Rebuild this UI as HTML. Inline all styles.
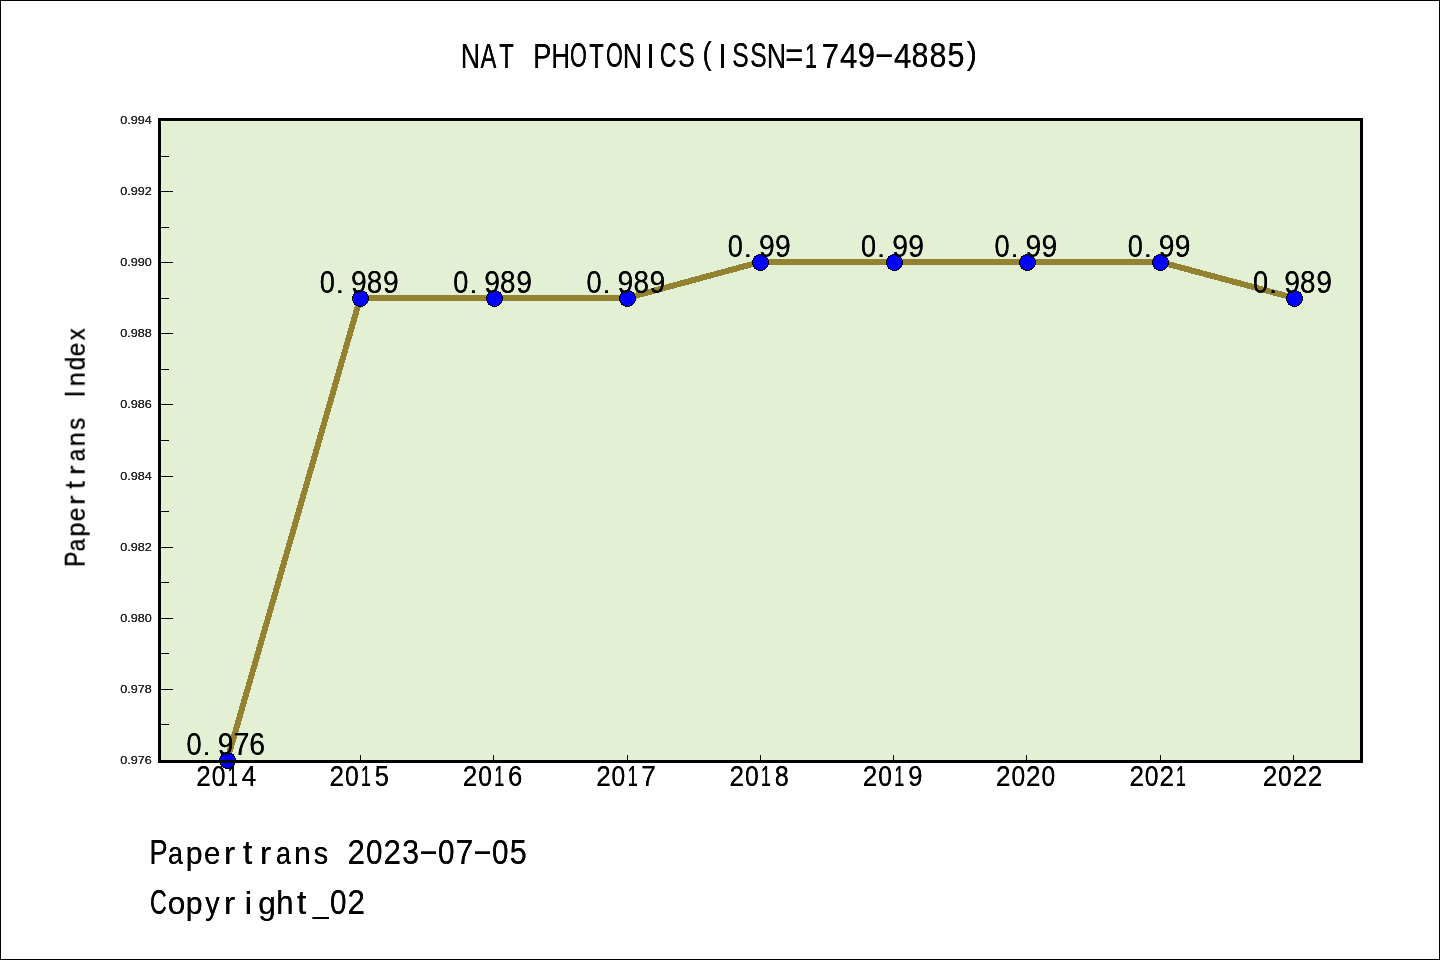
<!DOCTYPE html>
<html><head><meta charset="utf-8"><title>NAT PHOTONICS</title>
<style>
html,body{margin:0;padding:0;background:#fff;}
body{width:1440px;height:960px;overflow:hidden;font-family:"Liberation Sans",sans-serif;}
svg{display:block;font-family:"Liberation Sans",sans-serif;}
text{fill:#000;white-space:pre;}
.sh{filter:drop-shadow(0.3px 0 0 #000);}
.yt{filter:drop-shadow(0 0 0 #000);}
.yt text{fill:#262626;}
</style></head><body>
<svg width="1440" height="960" viewBox="0 0 1440 960">
<rect x="0" y="0" width="1440" height="960" fill="#fff"/>
<rect x="159.5" y="119.5" width="1202.0" height="642.0" fill="#e3f0d4"/>
<polyline points="227.20,760.00 360.20,298.00 494.20,298.00 627.20,298.00 760.20,262.00 894.20,262.00 1027.20,262.00 1160.20,262.00 1294.20,298.00" fill="none" stroke="#948233" stroke-width="6" stroke-linejoin="round" stroke-linecap="butt" shape-rendering="crispEdges"/>
<circle cx="227.50" cy="760.50" r="8" fill="#0000ff" stroke="#000" stroke-width="1" shape-rendering="crispEdges"/>
<circle cx="360.50" cy="298.50" r="8" fill="#0000ff" stroke="#000" stroke-width="1" shape-rendering="crispEdges"/>
<circle cx="494.50" cy="298.50" r="8" fill="#0000ff" stroke="#000" stroke-width="1" shape-rendering="crispEdges"/>
<circle cx="627.50" cy="298.50" r="8" fill="#0000ff" stroke="#000" stroke-width="1" shape-rendering="crispEdges"/>
<circle cx="760.50" cy="262.50" r="8" fill="#0000ff" stroke="#000" stroke-width="1" shape-rendering="crispEdges"/>
<circle cx="894.50" cy="262.50" r="8" fill="#0000ff" stroke="#000" stroke-width="1" shape-rendering="crispEdges"/>
<circle cx="1027.50" cy="262.50" r="8" fill="#0000ff" stroke="#000" stroke-width="1" shape-rendering="crispEdges"/>
<circle cx="1160.50" cy="262.50" r="8" fill="#0000ff" stroke="#000" stroke-width="1" shape-rendering="crispEdges"/>
<circle cx="1294.50" cy="298.50" r="8" fill="#0000ff" stroke="#000" stroke-width="1" shape-rendering="crispEdges"/>
<path d="M159.5 119.50H173 M159.5 156.50H169 M159.5 191.50H173 M159.5 227.50H169 M159.5 262.50H173 M159.5 298.50H169 M159.5 333.50H173 M159.5 369.50H169 M159.5 404.50H173 M159.5 440.50H169 M159.5 476.50H173 M159.5 511.50H169 M159.5 547.50H173 M159.5 582.50H169 M159.5 618.50H173 M159.5 653.50H169 M159.5 689.50H173 M159.5 724.50H169 M159.5 761.50H173 M227.50 761.5V755 M360.50 761.5V755 M493.50 761.5V755 M627.50 761.5V755 M760.50 761.5V755 M893.50 761.5V755 M1026.50 761.5V755 M1160.50 761.5V755 M1293.50 761.5V755" stroke="#000" stroke-width="1" fill="none" shape-rendering="crispEdges"/>
<rect x="159.5" y="119.5" width="1202.0" height="642.0" fill="none" stroke="#000" stroke-width="3"/>
<g class="yt" font-size="10.8"><text transform="translate(151.8 124.00) scale(1.17 1)" text-anchor="end">0.994</text><text transform="translate(151.8 195.00) scale(1.17 1)" text-anchor="end">0.992</text><text transform="translate(151.8 266.00) scale(1.17 1)" text-anchor="end">0.990</text><text transform="translate(151.8 337.00) scale(1.17 1)" text-anchor="end">0.988</text><text transform="translate(151.8 408.00) scale(1.17 1)" text-anchor="end">0.986</text><text transform="translate(151.8 480.00) scale(1.17 1)" text-anchor="end">0.984</text><text transform="translate(151.8 551.00) scale(1.17 1)" text-anchor="end">0.982</text><text transform="translate(151.8 622.00) scale(1.17 1)" text-anchor="end">0.980</text><text transform="translate(151.8 693.00) scale(1.17 1)" text-anchor="end">0.978</text><text transform="translate(151.8 764.00) scale(1.17 1)" text-anchor="end">0.976</text></g>
<text class="sh"><tspan x="196.21" y="785.80" font-size="28.88" textLength="14.49" lengthAdjust="spacingAndGlyphs">2</tspan><tspan x="211.64" y="785.77" font-size="28.84" textLength="13.71" lengthAdjust="spacingAndGlyphs">0</tspan><tspan x="227.74" y="785.80" font-size="28.95" textLength="9.93" lengthAdjust="spacingAndGlyphs">1</tspan><tspan x="241.84" y="785.80" font-size="28.95" textLength="14.38" lengthAdjust="spacingAndGlyphs">4</tspan></text>
<text class="sh"><tspan x="329.52" y="785.80" font-size="28.88" textLength="14.49" lengthAdjust="spacingAndGlyphs">2</tspan><tspan x="344.95" y="785.77" font-size="28.84" textLength="13.71" lengthAdjust="spacingAndGlyphs">0</tspan><tspan x="361.05" y="785.80" font-size="28.95" textLength="9.93" lengthAdjust="spacingAndGlyphs">1</tspan><tspan x="374.73" y="785.77" font-size="28.90" textLength="14.12" lengthAdjust="spacingAndGlyphs">5</tspan></text>
<text class="sh"><tspan x="462.83" y="785.80" font-size="28.88" textLength="14.49" lengthAdjust="spacingAndGlyphs">2</tspan><tspan x="478.26" y="785.77" font-size="28.84" textLength="13.71" lengthAdjust="spacingAndGlyphs">0</tspan><tspan x="494.36" y="785.80" font-size="28.95" textLength="9.93" lengthAdjust="spacingAndGlyphs">1</tspan><tspan x="508.00" y="785.77" font-size="28.84" textLength="14.30" lengthAdjust="spacingAndGlyphs">6</tspan></text>
<text class="sh"><tspan x="596.14" y="785.80" font-size="28.88" textLength="14.49" lengthAdjust="spacingAndGlyphs">2</tspan><tspan x="611.57" y="785.77" font-size="28.84" textLength="13.71" lengthAdjust="spacingAndGlyphs">0</tspan><tspan x="627.67" y="785.80" font-size="28.95" textLength="9.93" lengthAdjust="spacingAndGlyphs">1</tspan><tspan x="641.36" y="785.80" font-size="28.95" textLength="14.52" lengthAdjust="spacingAndGlyphs">7</tspan></text>
<text class="sh"><tspan x="729.45" y="785.80" font-size="28.88" textLength="14.49" lengthAdjust="spacingAndGlyphs">2</tspan><tspan x="744.88" y="785.77" font-size="28.84" textLength="13.71" lengthAdjust="spacingAndGlyphs">0</tspan><tspan x="760.98" y="785.80" font-size="28.95" textLength="9.93" lengthAdjust="spacingAndGlyphs">1</tspan><tspan x="774.74" y="785.77" font-size="28.84" textLength="14.06" lengthAdjust="spacingAndGlyphs">8</tspan></text>
<text class="sh"><tspan x="862.76" y="785.80" font-size="28.88" textLength="14.49" lengthAdjust="spacingAndGlyphs">2</tspan><tspan x="878.19" y="785.77" font-size="28.84" textLength="13.71" lengthAdjust="spacingAndGlyphs">0</tspan><tspan x="894.29" y="785.80" font-size="28.95" textLength="9.93" lengthAdjust="spacingAndGlyphs">1</tspan><tspan x="908.20" y="785.77" font-size="28.84" textLength="14.29" lengthAdjust="spacingAndGlyphs">9</tspan></text>
<text class="sh"><tspan x="996.07" y="785.80" font-size="28.88" textLength="14.49" lengthAdjust="spacingAndGlyphs">2</tspan><tspan x="1011.50" y="785.77" font-size="28.84" textLength="13.71" lengthAdjust="spacingAndGlyphs">0</tspan><tspan x="1026.07" y="785.80" font-size="28.88" textLength="14.49" lengthAdjust="spacingAndGlyphs">2</tspan><tspan x="1041.50" y="785.77" font-size="28.84" textLength="13.71" lengthAdjust="spacingAndGlyphs">0</tspan></text>
<text class="sh"><tspan x="1129.38" y="785.80" font-size="28.88" textLength="14.49" lengthAdjust="spacingAndGlyphs">2</tspan><tspan x="1144.81" y="785.77" font-size="28.84" textLength="13.71" lengthAdjust="spacingAndGlyphs">0</tspan><tspan x="1159.38" y="785.80" font-size="28.88" textLength="14.49" lengthAdjust="spacingAndGlyphs">2</tspan><tspan x="1175.91" y="785.80" font-size="28.95" textLength="9.93" lengthAdjust="spacingAndGlyphs">1</tspan></text>
<text class="sh"><tspan x="1262.69" y="785.80" font-size="28.88" textLength="14.49" lengthAdjust="spacingAndGlyphs">2</tspan><tspan x="1278.12" y="785.77" font-size="28.84" textLength="13.71" lengthAdjust="spacingAndGlyphs">0</tspan><tspan x="1292.69" y="785.80" font-size="28.88" textLength="14.49" lengthAdjust="spacingAndGlyphs">2</tspan><tspan x="1307.69" y="785.80" font-size="28.88" textLength="14.49" lengthAdjust="spacingAndGlyphs">2</tspan></text>
<text class="sh"><tspan x="186.54" y="755.17" font-size="31.72" textLength="15.11" lengthAdjust="spacingAndGlyphs">0</tspan><tspan x="202.55" y="755.20" font-size="24.00" textLength="8.22" lengthAdjust="spacingAndGlyphs">.</tspan><tspan x="217.65" y="755.17" font-size="31.72" textLength="15.75" lengthAdjust="spacingAndGlyphs">9</tspan><tspan x="233.41" y="755.20" font-size="31.84" textLength="16.01" lengthAdjust="spacingAndGlyphs">7</tspan><tspan x="249.35" y="755.17" font-size="31.72" textLength="15.77" lengthAdjust="spacingAndGlyphs">6</tspan></text>
<text class="sh"><tspan x="319.85" y="293.17" font-size="31.72" textLength="15.11" lengthAdjust="spacingAndGlyphs">0</tspan><tspan x="335.86" y="293.20" font-size="24.00" textLength="8.22" lengthAdjust="spacingAndGlyphs">.</tspan><tspan x="350.96" y="293.17" font-size="31.72" textLength="15.75" lengthAdjust="spacingAndGlyphs">9</tspan><tspan x="366.80" y="293.17" font-size="31.72" textLength="15.51" lengthAdjust="spacingAndGlyphs">8</tspan><tspan x="382.96" y="293.17" font-size="31.72" textLength="15.75" lengthAdjust="spacingAndGlyphs">9</tspan></text>
<text class="sh"><tspan x="453.16" y="293.17" font-size="31.72" textLength="15.11" lengthAdjust="spacingAndGlyphs">0</tspan><tspan x="469.17" y="293.20" font-size="24.00" textLength="8.22" lengthAdjust="spacingAndGlyphs">.</tspan><tspan x="484.27" y="293.17" font-size="31.72" textLength="15.75" lengthAdjust="spacingAndGlyphs">9</tspan><tspan x="500.11" y="293.17" font-size="31.72" textLength="15.51" lengthAdjust="spacingAndGlyphs">8</tspan><tspan x="516.27" y="293.17" font-size="31.72" textLength="15.75" lengthAdjust="spacingAndGlyphs">9</tspan></text>
<text class="sh"><tspan x="586.47" y="293.17" font-size="31.72" textLength="15.11" lengthAdjust="spacingAndGlyphs">0</tspan><tspan x="602.48" y="293.20" font-size="24.00" textLength="8.22" lengthAdjust="spacingAndGlyphs">.</tspan><tspan x="617.58" y="293.17" font-size="31.72" textLength="15.75" lengthAdjust="spacingAndGlyphs">9</tspan><tspan x="633.42" y="293.17" font-size="31.72" textLength="15.51" lengthAdjust="spacingAndGlyphs">8</tspan><tspan x="649.58" y="293.17" font-size="31.72" textLength="15.75" lengthAdjust="spacingAndGlyphs">9</tspan></text>
<text class="sh"><tspan x="727.78" y="257.17" font-size="31.72" textLength="15.11" lengthAdjust="spacingAndGlyphs">0</tspan><tspan x="743.79" y="257.20" font-size="24.00" textLength="8.22" lengthAdjust="spacingAndGlyphs">.</tspan><tspan x="758.89" y="257.17" font-size="31.72" textLength="15.75" lengthAdjust="spacingAndGlyphs">9</tspan><tspan x="774.89" y="257.17" font-size="31.72" textLength="15.75" lengthAdjust="spacingAndGlyphs">9</tspan></text>
<text class="sh"><tspan x="861.09" y="257.17" font-size="31.72" textLength="15.11" lengthAdjust="spacingAndGlyphs">0</tspan><tspan x="877.10" y="257.20" font-size="24.00" textLength="8.22" lengthAdjust="spacingAndGlyphs">.</tspan><tspan x="892.20" y="257.17" font-size="31.72" textLength="15.75" lengthAdjust="spacingAndGlyphs">9</tspan><tspan x="908.20" y="257.17" font-size="31.72" textLength="15.75" lengthAdjust="spacingAndGlyphs">9</tspan></text>
<text class="sh"><tspan x="994.40" y="257.17" font-size="31.72" textLength="15.11" lengthAdjust="spacingAndGlyphs">0</tspan><tspan x="1010.41" y="257.20" font-size="24.00" textLength="8.22" lengthAdjust="spacingAndGlyphs">.</tspan><tspan x="1025.51" y="257.17" font-size="31.72" textLength="15.75" lengthAdjust="spacingAndGlyphs">9</tspan><tspan x="1041.51" y="257.17" font-size="31.72" textLength="15.75" lengthAdjust="spacingAndGlyphs">9</tspan></text>
<text class="sh"><tspan x="1127.71" y="257.17" font-size="31.72" textLength="15.11" lengthAdjust="spacingAndGlyphs">0</tspan><tspan x="1143.72" y="257.20" font-size="24.00" textLength="8.22" lengthAdjust="spacingAndGlyphs">.</tspan><tspan x="1158.82" y="257.17" font-size="31.72" textLength="15.75" lengthAdjust="spacingAndGlyphs">9</tspan><tspan x="1174.82" y="257.17" font-size="31.72" textLength="15.75" lengthAdjust="spacingAndGlyphs">9</tspan></text>
<text class="sh"><tspan x="1253.02" y="293.17" font-size="31.72" textLength="15.11" lengthAdjust="spacingAndGlyphs">0</tspan><tspan x="1269.03" y="293.20" font-size="24.00" textLength="8.22" lengthAdjust="spacingAndGlyphs">.</tspan><tspan x="1284.13" y="293.17" font-size="31.72" textLength="15.75" lengthAdjust="spacingAndGlyphs">9</tspan><tspan x="1299.97" y="293.17" font-size="31.72" textLength="15.51" lengthAdjust="spacingAndGlyphs">8</tspan><tspan x="1316.13" y="293.17" font-size="31.72" textLength="15.75" lengthAdjust="spacingAndGlyphs">9</tspan></text>
<text class="sh"><tspan x="460.85" y="67.50" font-size="34.74" textLength="19.39" lengthAdjust="spacingAndGlyphs">N</tspan><tspan x="480.60" y="67.50" font-size="34.74" textLength="15.89" lengthAdjust="spacingAndGlyphs">A</tspan><tspan x="499.32" y="67.50" font-size="34.74" textLength="14.48" lengthAdjust="spacingAndGlyphs">T</tspan><tspan x="515.17" y="67.50" font-size="18.00"> </tspan><tspan x="533.17" y="67.50" font-size="34.74" textLength="18.17" lengthAdjust="spacingAndGlyphs">P</tspan><tspan x="551.40" y="67.50" font-size="34.74" textLength="18.49" lengthAdjust="spacingAndGlyphs">H</tspan><tspan x="570.07" y="67.46" font-size="34.60" textLength="16.86" lengthAdjust="spacingAndGlyphs">O</tspan><tspan x="589.32" y="67.50" font-size="34.74" textLength="14.48" lengthAdjust="spacingAndGlyphs">T</tspan><tspan x="606.07" y="67.46" font-size="34.60" textLength="16.86" lengthAdjust="spacingAndGlyphs">O</tspan><tspan x="622.85" y="67.50" font-size="34.74" textLength="19.39" lengthAdjust="spacingAndGlyphs">N</tspan><tspan x="646.43" y="67.50" font-size="34.74" textLength="8.04" lengthAdjust="spacingAndGlyphs">I</tspan><tspan x="659.72" y="67.46" font-size="34.60" textLength="16.76" lengthAdjust="spacingAndGlyphs">C</tspan><tspan x="678.28" y="67.46" font-size="34.60" textLength="16.45" lengthAdjust="spacingAndGlyphs">S</tspan><tspan x="702.59" y="63.74" font-size="31.66" textLength="9.17" lengthAdjust="spacingAndGlyphs">(</tspan><tspan x="718.43" y="67.50" font-size="34.74" textLength="8.04" lengthAdjust="spacingAndGlyphs">I</tspan><tspan x="732.28" y="67.46" font-size="34.60" textLength="16.45" lengthAdjust="spacingAndGlyphs">S</tspan><tspan x="750.28" y="67.46" font-size="34.60" textLength="16.45" lengthAdjust="spacingAndGlyphs">S</tspan><tspan x="766.85" y="67.50" font-size="34.74" textLength="19.39" lengthAdjust="spacingAndGlyphs">N</tspan><tspan x="785.20" y="66.54" font-size="34.75" textLength="17.91" lengthAdjust="spacingAndGlyphs">=</tspan><tspan x="805.06" y="67.50" font-size="34.74" textLength="12.00" lengthAdjust="spacingAndGlyphs">1</tspan><tspan x="821.49" y="67.50" font-size="34.74" textLength="17.49" lengthAdjust="spacingAndGlyphs">7</tspan><tspan x="839.98" y="67.50" font-size="34.74" textLength="17.33" lengthAdjust="spacingAndGlyphs">4</tspan><tspan x="857.75" y="67.46" font-size="34.60" textLength="17.22" lengthAdjust="spacingAndGlyphs">9</tspan><tspan x="874.07" y="63.70" font-size="32.00" textLength="20.46" lengthAdjust="spacingAndGlyphs">-</tspan><tspan x="893.98" y="67.50" font-size="34.74" textLength="17.33" lengthAdjust="spacingAndGlyphs">4</tspan><tspan x="911.58" y="67.46" font-size="34.60" textLength="16.95" lengthAdjust="spacingAndGlyphs">8</tspan><tspan x="929.58" y="67.46" font-size="34.60" textLength="16.95" lengthAdjust="spacingAndGlyphs">8</tspan><tspan x="947.48" y="67.46" font-size="34.68" textLength="17.01" lengthAdjust="spacingAndGlyphs">5</tspan><tspan x="966.82" y="63.74" font-size="31.66" textLength="10.17" lengthAdjust="spacingAndGlyphs">)</tspan></text>
<text class="sh"><tspan x="149.47" y="864.30" font-size="34.74" textLength="18.17" lengthAdjust="spacingAndGlyphs">P</tspan><tspan x="168.06" y="864.30" font-size="31.03" textLength="14.94" lengthAdjust="spacingAndGlyphs">a</tspan><tspan x="185.65" y="864.30" font-size="31.06" textLength="16.82" lengthAdjust="spacingAndGlyphs">p</tspan><tspan x="204.05" y="864.30" font-size="31.03" textLength="16.36" lengthAdjust="spacingAndGlyphs">e</tspan><tspan x="223.99" y="864.30" font-size="31.04" textLength="11.15" lengthAdjust="spacingAndGlyphs">r</tspan><tspan x="243.12" y="864.35" font-size="32.55" textLength="9.30" lengthAdjust="spacingAndGlyphs">t</tspan><tspan x="259.99" y="864.30" font-size="31.04" textLength="11.15" lengthAdjust="spacingAndGlyphs">r</tspan><tspan x="276.06" y="864.30" font-size="31.03" textLength="14.94" lengthAdjust="spacingAndGlyphs">a</tspan><tspan x="293.98" y="864.30" font-size="31.04" textLength="16.89" lengthAdjust="spacingAndGlyphs">n</tspan><tspan x="313.80" y="864.30" font-size="31.11" textLength="14.45" lengthAdjust="spacingAndGlyphs">s</tspan><tspan x="329.52" y="864.30" font-size="18.00"> </tspan><tspan x="347.52" y="864.30" font-size="34.66" textLength="17.46" lengthAdjust="spacingAndGlyphs">2</tspan><tspan x="366.04" y="864.26" font-size="34.60" textLength="16.52" lengthAdjust="spacingAndGlyphs">0</tspan><tspan x="383.52" y="864.30" font-size="34.66" textLength="17.46" lengthAdjust="spacingAndGlyphs">2</tspan><tspan x="402.15" y="864.26" font-size="34.60" textLength="16.77" lengthAdjust="spacingAndGlyphs">3</tspan><tspan x="418.37" y="860.50" font-size="32.00" textLength="20.46" lengthAdjust="spacingAndGlyphs">-</tspan><tspan x="438.04" y="864.26" font-size="34.60" textLength="16.52" lengthAdjust="spacingAndGlyphs">0</tspan><tspan x="455.79" y="864.30" font-size="34.74" textLength="17.49" lengthAdjust="spacingAndGlyphs">7</tspan><tspan x="472.37" y="860.50" font-size="32.00" textLength="20.46" lengthAdjust="spacingAndGlyphs">-</tspan><tspan x="492.04" y="864.26" font-size="34.60" textLength="16.52" lengthAdjust="spacingAndGlyphs">0</tspan><tspan x="509.78" y="864.26" font-size="34.68" textLength="17.01" lengthAdjust="spacingAndGlyphs">5</tspan></text>
<text class="sh"><tspan x="150.02" y="914.36" font-size="34.60" textLength="16.76" lengthAdjust="spacingAndGlyphs">C</tspan><tspan x="167.67" y="914.40" font-size="31.03" textLength="17.55" lengthAdjust="spacingAndGlyphs">o</tspan><tspan x="185.65" y="914.40" font-size="31.06" textLength="16.82" lengthAdjust="spacingAndGlyphs">p</tspan><tspan x="205.13" y="914.40" font-size="31.04" textLength="14.38" lengthAdjust="spacingAndGlyphs">y</tspan><tspan x="223.99" y="914.40" font-size="31.04" textLength="11.15" lengthAdjust="spacingAndGlyphs">r</tspan><tspan x="244.44" y="914.40" font-size="32.16" textLength="7.84" lengthAdjust="spacingAndGlyphs">i</tspan><tspan x="258.37" y="914.40" font-size="31.12" textLength="17.56" lengthAdjust="spacingAndGlyphs">g</tspan><tspan x="276.15" y="914.40" font-size="33.12" textLength="17.27" lengthAdjust="spacingAndGlyphs">h</tspan><tspan x="297.12" y="914.45" font-size="32.55" textLength="9.30" lengthAdjust="spacingAndGlyphs">t</tspan><tspan x="312.93" y="913.14" font-size="31.51" textLength="15.66" lengthAdjust="spacingAndGlyphs">_</tspan><tspan x="330.04" y="914.36" font-size="34.60" textLength="16.52" lengthAdjust="spacingAndGlyphs">0</tspan><tspan x="347.52" y="914.40" font-size="34.66" textLength="17.46" lengthAdjust="spacingAndGlyphs">2</tspan></text>
<g transform="translate(84.7 566.3) rotate(-90)"><text class="sh"><tspan x="-0.44" y="0.00" font-size="28.95" textLength="15.08" lengthAdjust="spacingAndGlyphs">P</tspan><tspan x="15.05" y="-0.00" font-size="25.86" textLength="12.40" lengthAdjust="spacingAndGlyphs">a</tspan><tspan x="29.72" y="0.00" font-size="25.89" textLength="13.95" lengthAdjust="spacingAndGlyphs">p</tspan><tspan x="45.05" y="-0.00" font-size="25.86" textLength="13.57" lengthAdjust="spacingAndGlyphs">e</tspan><tspan x="61.63" y="0.00" font-size="25.86" textLength="9.29" lengthAdjust="spacingAndGlyphs">r</tspan><tspan x="77.57" y="0.04" font-size="27.13" textLength="7.75" lengthAdjust="spacingAndGlyphs">t</tspan><tspan x="91.63" y="0.00" font-size="25.86" textLength="9.29" lengthAdjust="spacingAndGlyphs">r</tspan><tspan x="105.05" y="-0.00" font-size="25.86" textLength="12.40" lengthAdjust="spacingAndGlyphs">a</tspan><tspan x="119.99" y="0.00" font-size="25.86" textLength="14.01" lengthAdjust="spacingAndGlyphs">n</tspan><tspan x="136.50" y="-0.00" font-size="25.93" textLength="11.98" lengthAdjust="spacingAndGlyphs">s</tspan><tspan x="153.99" y="0.00" font-size="15.00"> </tspan><tspan x="168.99" y="0.00" font-size="28.95" textLength="6.55" lengthAdjust="spacingAndGlyphs">I</tspan><tspan x="179.99" y="0.00" font-size="25.86" textLength="14.01" lengthAdjust="spacingAndGlyphs">n</tspan><tspan x="195.89" y="-0.02" font-size="27.57" textLength="13.54" lengthAdjust="spacingAndGlyphs">d</tspan><tspan x="210.05" y="-0.00" font-size="25.86" textLength="13.57" lengthAdjust="spacingAndGlyphs">e</tspan><tspan x="226.06" y="0.00" font-size="25.87" textLength="12.06" lengthAdjust="spacingAndGlyphs">x</tspan></text></g>
<rect x="0.5" y="0.5" width="1439" height="959" fill="none" stroke="#000" stroke-width="1"/>
</svg>
</body></html>
